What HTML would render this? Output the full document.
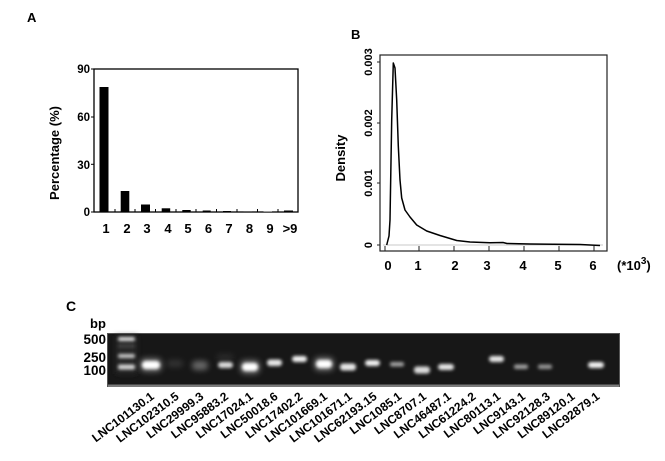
<!DOCTYPE html>
<html><head><meta charset="utf-8"><style>
html,body{margin:0;padding:0;background:#fff;}
svg{display:block;}
text{font-family:"Liberation Sans",sans-serif;font-weight:bold;fill:#000;}
</style></head><body>
<svg width="665" height="461" viewBox="0 0 665 461" xmlns="http://www.w3.org/2000/svg">
<defs>
<filter id="bl" x="-50%" y="-150%" width="200%" height="400%"><feGaussianBlur stdDeviation="1.7"/></filter>
<filter id="bl2" x="-50%" y="-150%" width="200%" height="400%"><feGaussianBlur stdDeviation="3"/></filter>
</defs>
<rect width="665" height="461" fill="#fff"/>

<!-- Panel A -->
<text x="27" y="22" font-size="13">A</text>
<rect x="94" y="69" width="204" height="143" fill="none" stroke="#000" stroke-width="1.3"/>
<g stroke="#000" stroke-width="1">
<line x1="91" y1="69" x2="94" y2="69"/><line x1="91" y1="117" x2="94" y2="117"/>
<line x1="91" y1="164.3" x2="94" y2="164.3"/><line x1="91" y1="212" x2="94" y2="212"/>
<line x1="115" y1="209" x2="115" y2="212"/><line x1="135" y1="209" x2="135" y2="212"/>
<line x1="155.5" y1="209" x2="155.5" y2="212"/><line x1="176" y1="209" x2="176" y2="212"/>
<line x1="196" y1="209" x2="196" y2="212"/><line x1="216.5" y1="209" x2="216.5" y2="212"/>
<line x1="237" y1="209" x2="237" y2="212"/><line x1="257.5" y1="209" x2="257.5" y2="212"/>
<line x1="278" y1="209" x2="278" y2="212"/>
</g>
<g font-size="11.5" text-anchor="end">
<text x="90" y="73">90</text><text x="90" y="121">60</text>
<text x="90" y="169">30</text><text x="90" y="216">0</text>
</g>
<text transform="translate(59,153) rotate(-90)" font-size="13" text-anchor="middle">Percentage (%)</text>
<g fill="#000">
<rect x="99.5" y="87" width="9" height="125"/>
<rect x="120.7" y="191" width="8.6" height="21"/>
<rect x="141" y="204.5" width="9" height="7.5"/>
<rect x="161.7" y="208.3" width="8.5" height="3.7"/>
<rect x="182.3" y="210" width="8.4" height="2"/>
<rect x="202.7" y="210.5" width="8" height="1.5"/>
<rect x="223" y="211" width="8" height="1"/>
<rect x="243.5" y="211" width="8.5" height="1" fill="#666"/>
<rect x="263.5" y="211.2" width="8.5" height="0.8" fill="#999"/>
<rect x="284" y="210.5" width="9" height="1.5"/>
</g>
<g font-size="13" text-anchor="middle">
<text x="106" y="233">1</text><text x="127" y="233">2</text><text x="147" y="233">3</text>
<text x="168" y="233">4</text><text x="188" y="233">5</text><text x="208.5" y="233">6</text>
<text x="229" y="233">7</text><text x="249.5" y="233">8</text><text x="270" y="233">9</text>
<text x="290" y="233">&gt;9</text>
</g>

<!-- Panel B -->
<text x="351" y="39" font-size="13">B</text>
<rect x="380" y="55" width="227" height="196" fill="none" stroke="#222" stroke-width="1.2"/>
<line x1="383" y1="245" x2="603" y2="245" stroke="#c8c8c8" stroke-width="1"/>
<g stroke="#222" stroke-width="1">
<line x1="377" y1="62" x2="380" y2="62"/><line x1="377" y1="123" x2="380" y2="123"/>
<line x1="377" y1="183" x2="380" y2="183"/><line x1="377" y1="245" x2="380" y2="245"/>
<line x1="385" y1="246" x2="385" y2="251"/><line x1="419" y1="246" x2="419" y2="251"/>
<line x1="454" y1="246" x2="454" y2="251"/><line x1="489" y1="246" x2="489" y2="251"/>
<line x1="524" y1="246" x2="524" y2="251"/><line x1="559" y1="246" x2="559" y2="251"/>
<line x1="594" y1="246" x2="594" y2="251"/>
</g>
<g font-size="11" text-anchor="middle">
<text transform="translate(372,62) rotate(-90)">0.003</text>
<text transform="translate(372,123) rotate(-90)">0.002</text>
<text transform="translate(372,183) rotate(-90)">0.001</text>
<text transform="translate(372,245) rotate(-90)">0</text>
</g>
<text transform="translate(345,158) rotate(-90)" font-size="13" text-anchor="middle">Density</text>
<g font-size="13" text-anchor="middle">
<text x="388" y="270">0</text><text x="418" y="270">1</text><text x="455" y="270">2</text>
<text x="487" y="270">3</text><text x="523" y="270">4</text><text x="558" y="270">5</text>
<text x="593" y="270">6</text>
</g>
<text x="617" y="270" font-size="13">(*10<tspan dy="-6" font-size="10">3</tspan><tspan dy="6">)</tspan></text>
<path d="M386.7,245 L389,236 L390,220 L391.7,120 L393.3,63 L395,68 L396.7,100 L398.3,146 L400,180 L401.7,198 L405,210 L410,217 L416.7,225 L426.7,231 L440,235.5 L446.7,237.5 L456.7,240.5 L470,242 L490,242.8 L503,242.5 L507,243.5 L530,244 L553,244.3 L580,244.5 L600,245.5" fill="none" stroke="#000" stroke-width="1.5" stroke-linejoin="round"/>

<!-- Panel C -->
<text x="66" y="311" font-size="14">C</text>
<text x="90" y="328" font-size="13">bp</text>
<g font-size="13.5" text-anchor="end">
<text x="106" y="344">500</text><text x="106" y="362">250</text><text x="106" y="375">100</text>
</g>
<rect x="107.5" y="333.5" width="512" height="53" fill="#171717" stroke="#555" stroke-width="1"/>
<rect x="108" y="384.5" width="511" height="2.5" fill="#7a7a7a"/>
<!-- bands -->
<g fill="#fff">
<!-- ladder -->
<rect x="116" y="336" width="21" height="38" fill="#262626" filter="url(#bl2)"/>
<rect x="118" y="337" width="17" height="4" rx="2" opacity="0.85" filter="url(#bl)"/>
<rect x="118" y="345" width="17" height="2" opacity="0.2" filter="url(#bl)"/>
<rect x="118" y="354" width="17" height="4" rx="2" opacity="0.75" filter="url(#bl)"/>
<rect x="118" y="364.5" width="17" height="5" rx="2" opacity="0.8" filter="url(#bl)"/>
<!-- glows -->
<g opacity="0.35">
<rect x="140" y="358" width="22" height="14" rx="5" filter="url(#bl2)"/>
<rect x="240" y="360" width="20" height="14" rx="5" filter="url(#bl2)"/>
<rect x="314" y="357" width="20" height="14" rx="5" filter="url(#bl2)"/>
</g>
<!-- lanes -->
<rect x="142" y="361" width="18" height="8" rx="4" filter="url(#bl)"/>
<rect x="167" y="360" width="16" height="7" rx="3" opacity="0.12" filter="url(#bl2)"/>
<rect x="192" y="361" width="16" height="9" rx="4" opacity="0.35" filter="url(#bl2)"/>
<rect x="218" y="362" width="15" height="6" rx="3" opacity="0.85" filter="url(#bl)"/>
<rect x="217" y="354" width="16" height="7" opacity="0.08" filter="url(#bl2)"/>
<rect x="242" y="363" width="16" height="8" rx="4" filter="url(#bl)"/>
<rect x="267" y="359.5" width="15" height="6.5" rx="3" opacity="0.9" filter="url(#bl)"/>
<rect x="292" y="356" width="15" height="6" rx="3" opacity="0.95" filter="url(#bl)"/>
<rect x="316" y="360" width="16" height="8" rx="4" filter="url(#bl)"/>
<rect x="340" y="363.5" width="16" height="7" rx="3" opacity="0.9" filter="url(#bl)"/>
<rect x="365" y="360" width="15" height="6" rx="3" opacity="0.95" filter="url(#bl)"/>
<rect x="390" y="362" width="14" height="4.5" rx="2" opacity="0.6" filter="url(#bl)"/>
<rect x="414" y="366.5" width="16" height="7" rx="3" opacity="0.85" filter="url(#bl)"/>
<rect x="438" y="364" width="16" height="6" rx="3" opacity="0.9" filter="url(#bl)"/>
<rect x="489" y="356" width="15" height="6" rx="3" opacity="0.9" filter="url(#bl)"/>
<rect x="514" y="364.5" width="14" height="4.5" rx="2" opacity="0.6" filter="url(#bl)"/>
<rect x="538" y="364.5" width="14" height="4.5" rx="2" opacity="0.55" filter="url(#bl)"/>
<rect x="588" y="362" width="16" height="6" rx="3" opacity="0.95" filter="url(#bl)"/>
</g>
<!-- lane labels -->
<g font-size="12" text-anchor="end">
<text transform="translate(155,398) rotate(-37)">LNC101130.1</text>
<text transform="translate(179.7,398) rotate(-37)">LNC102310.5</text>
<text transform="translate(204.5,398) rotate(-37)">LNC29999.3</text>
<text transform="translate(229.2,398) rotate(-37)">LNC95883.2</text>
<text transform="translate(254,398) rotate(-37)">LNC17024.1</text>
<text transform="translate(278.7,398) rotate(-37)">LNC50018.6</text>
<text transform="translate(303.5,398) rotate(-37)">LNC17402.2</text>
<text transform="translate(328.2,398) rotate(-37)">LNC101669.1</text>
<text transform="translate(353,398) rotate(-37)">LNC101671.1</text>
<text transform="translate(377.7,398) rotate(-37)">LNC62193.15</text>
<text transform="translate(402.5,398) rotate(-37)">LNC1085.1</text>
<text transform="translate(427.2,398) rotate(-37)">LNC8707.1</text>
<text transform="translate(452,398) rotate(-37)">LNC46487.1</text>
<text transform="translate(476.7,398) rotate(-37)">LNC61224.2</text>
<text transform="translate(501.5,398) rotate(-37)">LNC80113.1</text>
<text transform="translate(526.2,398) rotate(-37)">LNC9143.1</text>
<text transform="translate(551,398) rotate(-37)">LNC92128.3</text>
<text transform="translate(575.7,398) rotate(-37)">LNC89120.1</text>
<text transform="translate(600.5,398) rotate(-37)">LNC92879.1</text>
</g>
</svg>
</body></html>
